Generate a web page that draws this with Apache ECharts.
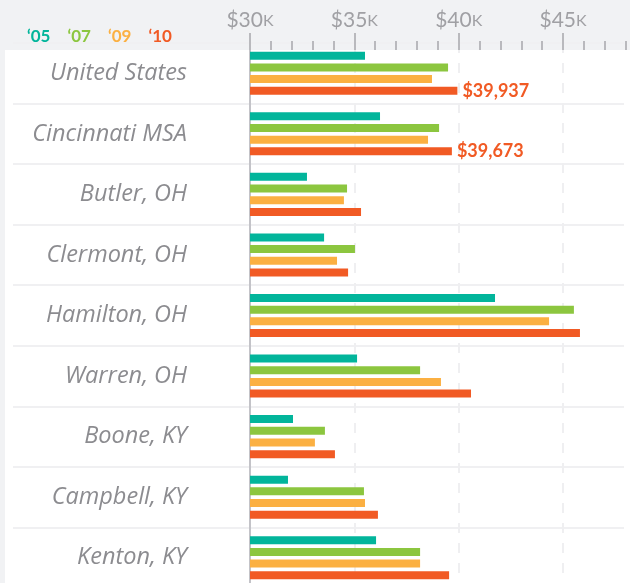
<!DOCTYPE html>
<html lang="en">
<head>
<meta charset="UTF-8">
<title>Median household income</title>
<script src="https://cdn.jsdelivr.net/npm/echarts@6/dist/echarts.min.js"></script>
<style>
    html, body { margin: 0; padding: 0; background: #f1f2f4; }
    #chart { width: 630px; height: 583px; }
</style>
</head>
<body>
<div id="chart"></div>
<script>
    // rows, top to bottom
    var places = ['United States', 'Cincinnati MSA', 'Butler, OH', 'Clermont, OH', 'Hamilton, OH',
        'Warren, OH', 'Boone, KY', 'Campbell, KY', 'Kenton, KY'];
    var years = ['\u201805', '\u201807', '\u201809', '\u201810'];
    var colors = ['#02b59b', '#8cc63f', '#fbb042', '#f15a24'];

    // values (dollars)
    var y2005 = [35510, 36230, 32730, 33550, 41740, 35130, 32060, 31820, 36040];
    var y2007 = [39490, 39060, 34650, 35030, 45520, 38150, 33590, 35460, 38150];
    var y2009 = [38720, 38530, 34500, 34170, 44330, 39150, 33110, 35510, 38150];
    var y2010 = [39937, 39673, 35320, 34700, 45810, 40590, 34070, 36130, 39540];
    var allYears = [y2005, y2007, y2009, y2010];

    // rows whose 2010 bar carries a value label
    var labelledRows = [0, 1];

    var axisMin = 30000, axisMax = 50000, axisStep = 5000;

    var chart = echarts.init(document.getElementById('chart'));

    var series = allYears.map(function (vals, i) {
        return {
            name: years[i],
            type: 'bar',
            xAxisIndex: 0,
            yAxisIndex: 0,
            barWidth: 8,
            barGap: '46%',
            itemStyle: { color: colors[i] },
            data: vals.map(function (v, r) {
                var item = { value: v };
                if (i === 3 && labelledRows.indexOf(r) >= 0) {
                    item.label = {
                        show: true,
                        position: 'right',
                        distance: 5,
                        color: '#f15a24',
                        fontFamily: 'Lato',
                        fontWeight: 'bold',
                        fontSize: 18,
                        formatter: function (p) {
                            return '$' + p.value.toLocaleString('en-US');
                        }
                    };
                }
                return item;
            })
        };
    });

    chart.setOption({
        backgroundColor: '#f1f2f4',
        animation: false,
        graphic: [{
            type: 'rect',
            z: -10,
            shape: { x: 5, y: 50, width: 625, height: 540 },
            style: { fill: '#ffffff' }
        }],
        legend: {
            left: 17,
            top: 23,
            icon: 'none',
            itemWidth: 0,
            itemHeight: 14,
            itemGap: 12,
            selectedMode: false,
            textStyle: { fontFamily: 'Lato', fontWeight: 'bold', fontSize: 17 },
            data: years.map(function (y, i) {
                return { name: y, textStyle: { color: colors[i] } };
            })
        },
        grid: [
            { left: 250, top: 43, width: 417.4, height: 545, outerBoundsMode: 'none' },
            { left: 13, top: 43, right: 6, height: 545, outerBoundsMode: 'none' }
        ],
        xAxis: [{
            type: 'value',
            gridIndex: 0,
            position: 'top',
            offset: -7,
            min: axisMin,
            max: axisMax,
            interval: axisStep,
            axisLine: { show: false },
            axisTick: { show: true, length: 17, lineStyle: { color: '#b9b9bd', width: 2 } },
            minorTick: { show: true, splitNumber: 5, length: 9, lineStyle: { color: '#b9b9bd', width: 2 } },
            splitLine: { show: true, lineStyle: { color: '#efeff1', width: 2, type: [10, 10] } },
            axisLabel: {
                margin: 19,
                color: '#a0a0a4',
                fontFamily: 'Lato',
                formatter: function (v) {
                    return '{d|$' + (v / 1000) + '}{k|K}';
                },
                rich: {
                    d: { fontSize: 21, fontFamily: 'Lato', color: '#a0a0a4' },
                    k: { fontSize: 16, fontFamily: 'Lato', color: '#a0a0a4' }
                }
            }
        }, {
            type: 'value',
            gridIndex: 1,
            show: false
        }],
        yAxis: [{
            type: 'category',
            gridIndex: 0,
            inverse: true,
            data: places,
            axisLine: { show: true, lineStyle: { color: '#c3c3c8', width: 2 } },
            axisTick: { show: false },
            splitLine: { show: false },
            axisLabel: {
                margin: 63,
                padding: [5, 0, 0, 0],
                color: '#8c8c90',
                fontFamily: 'Open Sans',
                fontStyle: 'italic',
                fontSize: 23.5
            }
        }, {
            // row separators across the full panel
            type: 'category',
            gridIndex: 1,
            inverse: true,
            data: places,
            axisLine: { show: false },
            axisTick: { show: false },
            axisLabel: { show: false },
            splitLine: { show: true, lineStyle: { color: '#f0f0f2', width: 2 } }
        }],
        series: series
    });
</script>
</body>
</html>
